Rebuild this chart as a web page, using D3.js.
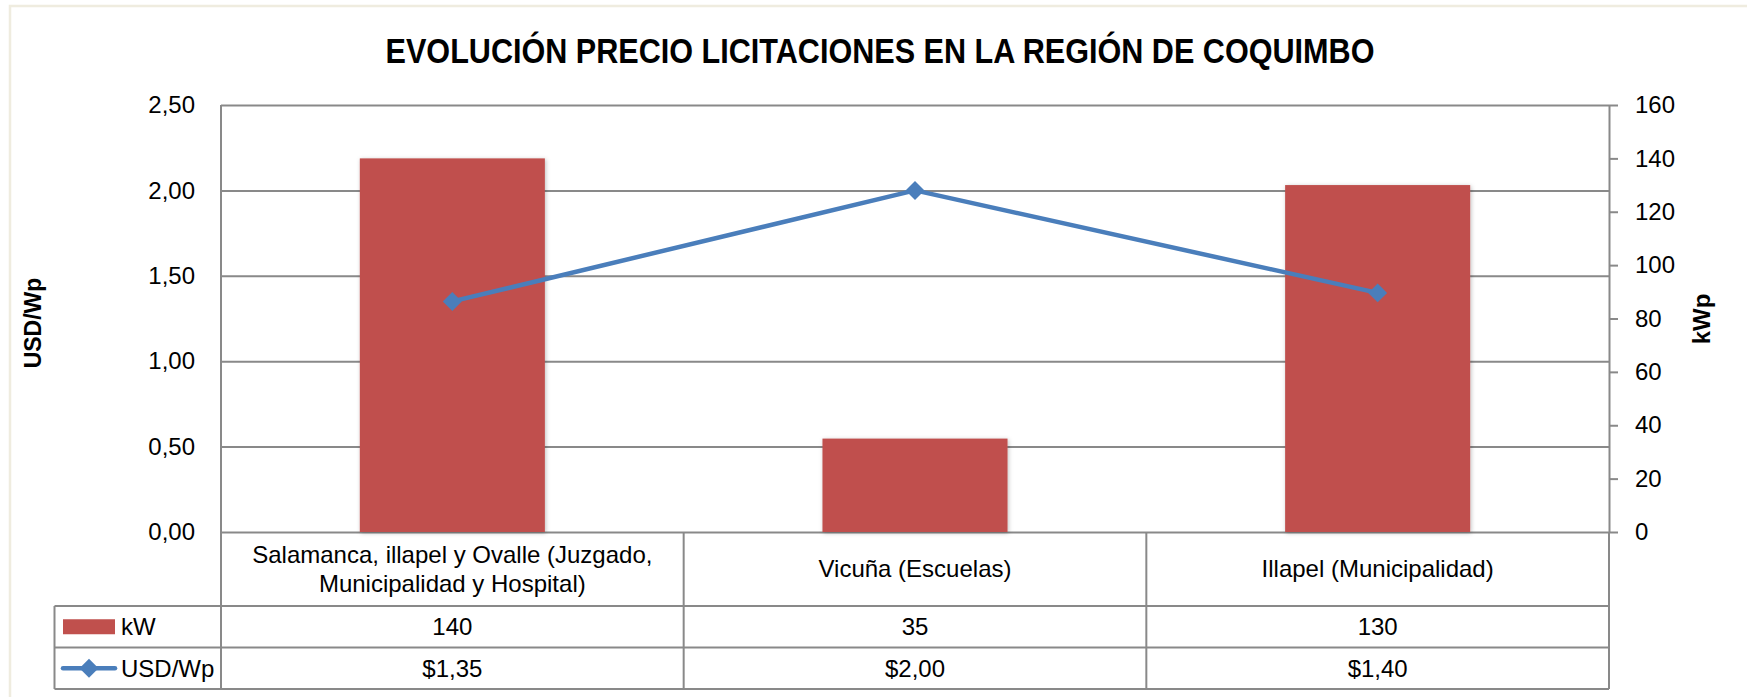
<!DOCTYPE html>
<meta charset="utf-8">
<style>
  body { margin: 0; background: #fff; }
  text { font-family: "Liberation Sans", Arial, sans-serif; fill: #000; }
</style>
<body>
<script src="https://d3js.org/d3.v7.min.js"></script>
<script>

var categories = [
  "Salamanca, illapel y Ovalle (Juzgado, Municipalidad y Hospital)",
  "Vicuña (Escuelas)",
  "Illapel (Municipalidad)"
];
var kw = [140, 35, 130];
var usdWp = [1.35, 2.00, 1.40];
var leftTicks = [0, 0.5, 1, 1.5, 2, 2.5];
var rightTicks = [0, 20, 40, 60, 80, 100, 120, 140, 160];

var title = "EVOLUCIÓN PRECIO LICITACIONES EN LA REGIÓN DE COQUIMBO";

var width = 1747,
    height = 697;

var plot = {left: 221, right: 1609, top: 105, bottom: 532};
var rows = {cat: 606, kw: 647.5, usd: 689};
var legendLeft = 54.5;

var red = "#c0504d",
    blue = "#4a7ebb",
    grid = "#898989";

var locale = d3.formatLocale({decimal: ",", thousands: ".", grouping: [3], currency: ["$", ""]});
var fmtTick = locale.format(".2f"),
    fmtUsd = locale.format("$.2f");

var svg = d3.select("body").append("svg")
    .attr("width", width)
    .attr("height", height);

var defs = svg.append("defs");
defs.append("filter")
    .attr("id", "shadow")
    .attr("x", "-10%").attr("y", "-10%").attr("width", "120%").attr("height", "120%")
  .append("feDropShadow")
    .attr("dx", 1).attr("dy", 1).attr("stdDeviation", 2)
    .attr("flood-color", "#000").attr("flood-opacity", 0.25);

// outer frame (only top and left visible)
svg.append("path")
    .attr("d", "M10," + height + "V6H" + width)
    .attr("fill", "none")
    .attr("stroke", "#efecdf")
    .attr("stroke-width", 2.5);

var x = d3.scaleBand()
    .domain(categories)
    .range([plot.left, plot.right]);

var xBar = d3.scaleBand()
    .domain(categories)
    .range([plot.left, plot.right])
    .paddingInner(0.6)
    .paddingOuter(0.3);

var yL = d3.scaleLinear().domain([0, 2.5]).range([plot.bottom, plot.top]);
var yR = d3.scaleLinear().domain([0, 160]).range([plot.bottom, plot.top]);

// title
svg.append("text")
    .attr("transform", "translate(880,63) scale(0.85,1)")
    .attr("text-anchor", "middle")
    .style("font-size", "36px")
    .style("font-weight", "bold")
    .text(title);

// gridlines
svg.append("g")
    .attr("transform", "translate(" + plot.left + ",0)")
    .call(d3.axisLeft(yL).tickValues(leftTicks).tickSize(-(plot.right - plot.left)).tickFormat(""))
    .call(function(g) { g.select(".domain").remove(); })
    .selectAll("line")
    .attr("stroke", grid)
    .attr("stroke-width", 2);

// plot left border
svg.append("line")
    .attr("x1", plot.left).attr("x2", plot.left)
    .attr("y1", plot.top).attr("y2", plot.bottom)
    .attr("stroke", grid).attr("stroke-width", 2);

// left axis labels
svg.append("g")
    .attr("transform", "translate(" + plot.left + ",0)")
    .call(d3.axisLeft(yL).tickValues(leftTicks).tickSize(0).tickPadding(26).tickFormat(fmtTick))
    .call(function(g) { g.select(".domain").remove(); })
    .selectAll("text")
    .style("font-size", "24px")
    .style("font-family", "'Liberation Sans', Arial, sans-serif")
    .attr("fill", "#000");

// right axis
svg.append("g")
    .attr("transform", "translate(" + plot.right + ",0)")
    .call(d3.axisRight(yR).tickValues(rightTicks).tickSize(9).tickSizeOuter(0).tickPadding(17))
    .call(function(g) {
      g.select(".domain").attr("stroke", grid).attr("stroke-width", 2);
      g.selectAll(".tick line").attr("stroke", grid).attr("stroke-width", 2);
    })
    .selectAll("text")
    .style("font-size", "24px")
    .style("font-family", "'Liberation Sans', Arial, sans-serif")
    .attr("fill", "#000");

// axis titles
svg.append("text")
    .attr("transform", "translate(33,323) rotate(-90)")
    .attr("text-anchor", "middle")
    .attr("dy", "0.35em")
    .style("font-size", "23px")
    .style("font-weight", "bold")
    .text("USD/Wp");

svg.append("text")
    .attr("transform", "translate(1702,319) rotate(-90)")
    .attr("text-anchor", "middle")
    .attr("dy", "0.35em")
    .style("font-size", "24px")
    .style("font-weight", "bold")
    .text("kWp");

// bars
svg.append("g")
    .selectAll("rect")
    .data(categories)
    .join("rect")
    .attr("x", function(d) { return xBar(d); })
    .attr("width", xBar.bandwidth())
    .attr("y", function(d, i) { return yR(kw[i]); })
    .attr("height", function(d, i) { return yR(0) - yR(kw[i]); })
    .attr("fill", red)
    .attr("filter", "url(#shadow)");

// line
var line = d3.line()
    .x(function(d, i) { return x(categories[i]) + x.bandwidth() / 2; })
    .y(function(d) { return yL(d); });

svg.append("path")
    .datum(usdWp)
    .attr("d", line)
    .attr("fill", "none")
    .attr("stroke", blue)
    .attr("stroke-width", 4.5)
    .attr("stroke-linejoin", "round");

var diamond = d3.symbol().type(d3.symbolSquare).size(180);
svg.append("g")
    .selectAll("path")
    .data(usdWp)
    .join("path")
    .attr("transform", function(d, i) {
      return "translate(" + (x(categories[i]) + x.bandwidth() / 2) + "," + yL(d) + ") rotate(45)";
    })
    .attr("d", diamond)
    .attr("fill", blue);

// data table
var table = svg.append("g")
    .attr("fill", "none")
    .attr("stroke", grid)
    .attr("stroke-width", 2);

// bottom axis line (0 line) already from gridline; table verticals
x.domain().forEach(function(c, i) {
  table.append("line")
      .attr("x1", x(c)).attr("x2", x(c))
      .attr("y1", plot.bottom).attr("y2", rows.usd);
});
table.append("line")
    .attr("x1", plot.right).attr("x2", plot.right)
    .attr("y1", plot.bottom).attr("y2", rows.usd);
table.append("line")
    .attr("x1", legendLeft).attr("x2", legendLeft)
    .attr("y1", rows.cat).attr("y2", rows.usd);
[rows.cat, rows.kw, rows.usd].forEach(function(yy) {
  table.append("line")
      .attr("x1", legendLeft).attr("x2", plot.right)
      .attr("y1", yy).attr("y2", yy);
});

// category labels, wrapped to the cell
var catText = svg.append("g")
    .selectAll("text")
    .data(categories)
    .join("text")
    .attr("text-anchor", "middle")
    .style("font-size", "24px")
    .attr("x", function(d) { return x(d) + x.bandwidth() / 2; });

catText.each(function(d) {
  var t = d3.select(this);
  var cx = x(d) + x.bandwidth() / 2;
  var words = d.split(" "), lines = [], cur = [];
  var probe = t.append("tspan");
  words.forEach(function(w) {
    cur.push(w);
    probe.text(cur.join(" "));
    if (probe.node().getComputedTextLength() > x.bandwidth() - 30 && cur.length > 1) {
      cur.pop();
      lines.push(cur.join(" "));
      cur = [w];
    }
  });
  lines.push(cur.join(" "));
  probe.remove();
  var mid = (plot.bottom + rows.cat) / 2;
  var lh = 29;
  lines.forEach(function(l, k) {
    t.append("tspan")
        .attr("x", cx)
        .attr("y", mid + (k - (lines.length - 1) / 2) * lh)
        .attr("dy", "0.35em")
        .text(l);
  });
});

// values rows
svg.append("g")
    .selectAll("text")
    .data(kw)
    .join("text")
    .attr("text-anchor", "middle")
    .style("font-size", "24px")
    .attr("x", function(d, i) { return x(categories[i]) + x.bandwidth() / 2; })
    .attr("y", (rows.cat + rows.kw) / 2)
    .attr("dy", "0.35em")
    .text(function(d) { return d; });

svg.append("g")
    .selectAll("text")
    .data(usdWp)
    .join("text")
    .attr("text-anchor", "middle")
    .style("font-size", "24px")
    .attr("x", function(d, i) { return x(categories[i]) + x.bandwidth() / 2; })
    .attr("y", (rows.kw + rows.usd) / 2)
    .attr("dy", "0.35em")
    .text(function(d) { return fmtUsd(d); });

// legend keys in table
var kwY = (rows.cat + rows.kw) / 2,
    usdY = (rows.kw + rows.usd) / 2;

svg.append("rect")
    .attr("x", 63).attr("y", kwY - 7.5)
    .attr("width", 52).attr("height", 15)
    .attr("fill", red);

svg.append("text")
    .attr("x", 121).attr("y", kwY).attr("dy", "0.35em")
    .style("font-size", "24px")
    .text("kW");

svg.append("line")
    .attr("x1", 63).attr("x2", 115)
    .attr("y1", usdY).attr("y2", usdY)
    .attr("stroke", blue)
    .attr("stroke-width", 4.5)
    .attr("stroke-linecap", "round");

svg.append("path")
    .attr("transform", "translate(89," + usdY + ") rotate(45)")
    .attr("d", diamond)
    .attr("fill", blue);

svg.append("text")
    .attr("x", 121).attr("y", usdY).attr("dy", "0.35em")
    .style("font-size", "24px")
    .text("USD/Wp");

</script>
